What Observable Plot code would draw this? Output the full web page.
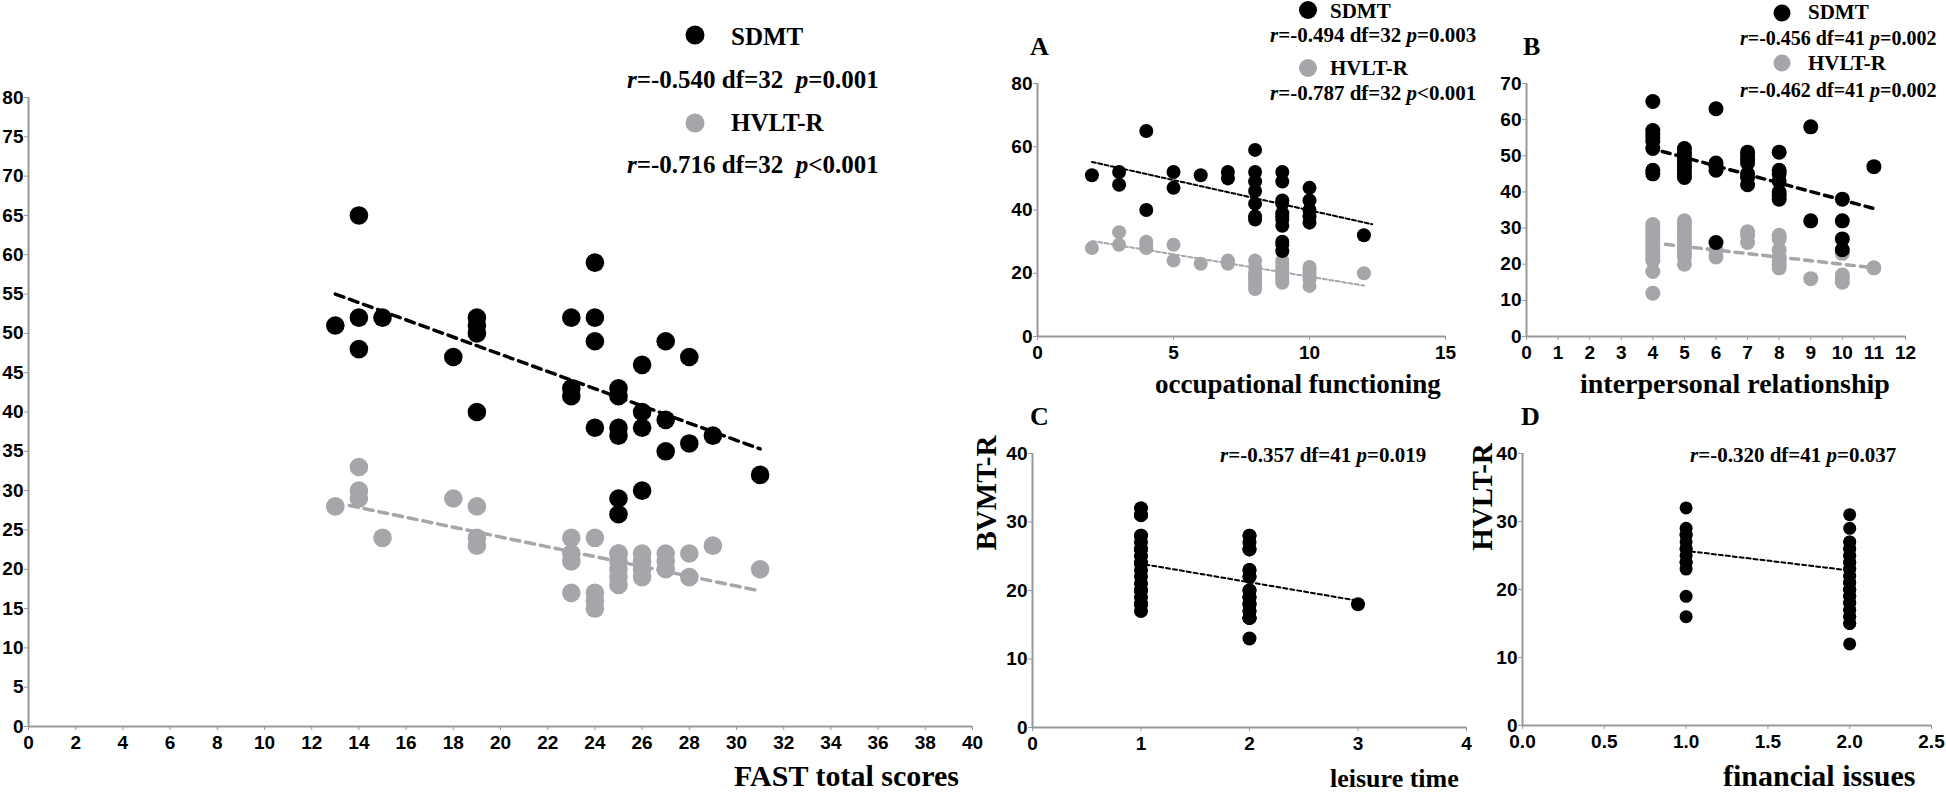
<!DOCTYPE html>
<html><head><meta charset="utf-8">
<script src="https://cdn.jsdelivr.net/npm/d3@7"></script>
<script src="https://cdn.jsdelivr.net/npm/@observablehq/plot@0.6"></script>
<style>
html,body{margin:0;padding:0;background:#fff;}
#root{position:relative;width:1946px;height:794px;overflow:hidden;background:#fff;}
#root svg{position:absolute;overflow:visible;}
#root svg g[aria-label="x-axis tick label"], #root svg g[aria-label="y-axis tick label"]{
  font-weight:bold !important; font-size:19px !important; font-family:'Liberation Sans', Arial, sans-serif !important;}
</style></head><body><div id="root"></div>
<script>
// ---------- DATA ----------
// Main panel: FAST total scores vs SDMT / HVLT-R  [x, y]
const fastSDMT = [[13,51],[14,65],[14,52],[14,48],[15,52],[18,47],[19,52],[19,51],[19,50],[19,40],[23,52],[23,43],[23,42],[24,59],[24,52],[24,49],[24,38],[25,43],[25,42],[25,38],[25,37],[25,29],[25,27],[26,46],[26,40],[26,38],[26,30],[27,49],[27,39],[27,35],[28,47],[28,36],[29,37],[31,32]];
const fastHVLT = [[13,28],[14,33],[14,30],[14,29],[15,24],[18,29],[19,28],[19,24],[19,23],[23,24],[23,22],[23,21],[23,17],[24,24],[24,17],[24,16],[24,15],[25,22],[25,22],[25,21],[25,20],[25,19],[25,18],[26,22],[26,21],[26,20],[26,19],[27,22],[27,21],[27,20],[28,22],[28,19],[29,23],[31,20]];
const fastSDMTFit = [[13,55.0],[31,35.3]];
const fastHVLTFit = [[13.6,28.1],[30.9,17.3]];
const fastTicksX = [0,2,4,6,8,10,12,14,16,18,20,22,24,26,28,30,32,34,36,38,40];
const fastTicksY = [0,5,10,15,20,25,30,35,40,45,50,55,60,65,70,75,80];

// Panel A: occupational functioning
const occSDMT = [[2,51],[3,52],[3,48],[4,65],[4,40],[5,52],[5,47],[6,51],[7,52],[7,50],[8,59],[8,52],[8,49],[8,46],[8,42],[8,38],[8,37],[9,52],[9,49],[9,43],[9,42],[9,39],[9,38],[9,37],[9,35],[9,30],[9,29],[9,27],[10,47],[10,43],[10,40],[10,38],[10,36],[12,32]];
const occHVLT = [[2,28],[3,33],[3,29],[4,30],[4,29],[4,28],[5,29],[5,24],[6,23],[7,24],[7,23],[8,24],[8,22],[8,20],[8,19],[8,18],[8,17],[8,16],[8,15],[9,24],[9,23],[9,22],[9,21],[9,20],[9,19],[9,18],[9,17],[10,22],[10,21],[10,20],[10,19],[10,18],[10,16],[12,20]];
const occSDMTFit = [[2,55.2],[12.3,35.5]];
const occHVLTFit = [[2,30.2],[12,16.1]];
const occTicksX = [0,5,10,15];
const occTicksY = [0,20,40,60,80];

// Panel B: interpersonal relationship
const interSDMT = [[4,65],[4,57],[4,56],[4,55],[4,54],[4,52],[4,46],[4,45],[5,52],[5,51],[5,50],[5,49],[5,48],[5,47],[5,46],[5,45],[5,44],[6,63],[6,48],[6,47],[6,46],[6,26],[7,51],[7,50],[7,49],[7,48],[7,45],[7,44],[7,42],[8,51],[8,46],[8,45],[8,43],[8,40],[8,39],[8,38],[9,58],[9,32],[10,38],[10,32],[10,27],[10,24],[11,47]];
const interHVLT = [[4,31],[4,30],[4,29],[4,28],[4,27],[4,26],[4,25],[4,24],[4,23],[4,22],[4,21],[4,18],[4,12],[5,32],[5,31],[5,30],[5,29],[5,28],[5,27],[5,26],[5,25],[5,24],[5,23],[5,22],[5,20],[6,24],[6,22],[7,29],[7,28],[7,26],[8,28],[8,27],[8,24],[8,22],[8,21],[8,20],[8,19],[9,16],[10,23],[10,17],[10,16],[10,15],[11,19]];
const interSDMTFit = [[4.3,51.2],[11.0,35.4]];
const interHVLTFit = [[4.4,25.5],[11.0,19.0]];
const interTicksX = [0,1,2,3,4,5,6,7,8,9,10,11,12];
const interTicksY = [0,10,20,30,40,50,60,70];

// Panel C: leisure time vs BVMT-R
const leisure1 = [32,31,31,28,28,27,26,26,25,24,24,23,22,21,20,20,19,18,18,17];
const leisure2 = [28,28,27,26,26,23,23,22,22,20,20,19,19,18,18,17,17,16,16,16,16,13];
const leisure3 = [18];
const leisureFit = [[1.04,23.8],[3.0,18.5]];
const leisureTicksX = [0,1,2,3,4];
const leisureTicksY = [0,10,20,30,40];

// Panel D: financial issues vs HVLT-R
const finance1 = [32,29,28,28,27,26,26,25,24,24,23,19,16];
const finance2 = [31,29,27,27,26,26,25,25,24,24,23,23,22,22,21,21,20,20,20,19,19,18,18,17,17,16,16,15,15,12];
const financeFit = [[1.03,25.6],[2.0,22.8]];
const financeTicksX = [0,0.5,1,1.5,2,2.5];
const financeTicksY = [0,10,20,30,40];

// ---------- STYLE ----------
const BLACK = "#000000", GRAY = "#a6a6aa", AXIS = "#999999";
const SANS = "'Liberation Sans', Arial, Helvetica, sans-serif";
const SERIF = "'Liberation Serif', 'Times New Roman', Times, serif";
const root = document.getElementById("root");

function panel(o) {
  const marks = [
    Plot.ruleY([o.yDomain[0]], {stroke: AXIS, strokeWidth: 2}),
    Plot.ruleX([o.xDomain[0]], {stroke: AXIS, strokeWidth: 2}),
    Plot.axisX({ticks: o.xTicks, tickFormat: o.xFormat || (d => String(d)), tickSize: 4, tickPadding: 5,
      stroke: AXIS, fill: BLACK, fontSize: 19, fontWeight: "bold", fontFamily: SANS}),
    Plot.axisY({ticks: o.yTicks, tickFormat: d => String(d), tickSize: 4, tickPadding: 1,
      stroke: AXIS, fill: BLACK, fontSize: 19, fontWeight: "bold", fontFamily: SANS})
  ];
  for (const s of o.series) {
    marks.push(Plot.dot(s.points, {x: d => d[0], y: d => d[1], r: s.r, fill: s.color, stroke: "none"}));
    marks.push(Plot.line(s.fit, {x: d => d[0], y: d => d[1], stroke: s.color, strokeWidth: s.lw, strokeDasharray: s.dash}));
  }
  const svg = Plot.plot({
    width: o.width, height: o.height,
    marginTop: o.m[0], marginRight: o.m[1], marginBottom: o.m[2], marginLeft: o.m[3],
    x: {domain: o.xDomain, label: null},
    y: {domain: o.yDomain, label: null},
    style: {background: "transparent", overflow: "visible", fontFamily: SANS, fontWeight: "bold", fontSize: "19px"},
    marks
  });
  svg.style.left = o.left + "px";
  svg.style.top = o.top + "px";
  root.appendChild(svg);
}

// Main panel
panel({left: 0, top: 0, width: 990, height: 794, m: [97, 18, 68, 28],
  xDomain: [0, 40], yDomain: [0, 80], xTicks: fastTicksX, yTicks: fastTicksY,
  series: [
    {points: fastHVLT, fit: fastHVLTFit, color: GRAY, r: 9.3, lw: 3.5, dash: "9,6"},
    {points: fastSDMT, fit: fastSDMTFit, color: BLACK, r: 9.3, lw: 3.5, dash: "9,6"}
  ]});

// Panel A
panel({left: 990, top: 0, width: 470, height: 400, m: [83, 15, 64, 47],
  xDomain: [0, 15], yDomain: [0, 80], xTicks: occTicksX, yTicks: occTicksY,
  series: [
    {points: occHVLT, fit: occHVLTFit, color: GRAY, r: 7, lw: 2, dash: "4,2.5"},
    {points: occSDMT, fit: occSDMTFit, color: BLACK, r: 7, lw: 2, dash: "4,2.5"}
  ]});

// Panel B
panel({left: 1460, top: 0, width: 486, height: 400, m: [83, 41, 64, 66],
  xDomain: [0, 12], yDomain: [0, 70], xTicks: interTicksX, yTicks: interTicksY,
  series: [
    {points: interHVLT, fit: interHVLTFit, color: GRAY, r: 7.5, lw: 3.5, dash: "8,6"},
    {points: interSDMT, fit: interSDMTFit, color: BLACK, r: 7.5, lw: 3.5, dash: "8,6"}
  ]});

// Panel C
const leisureData = [...leisure1.map(v => [1, v]), ...leisure2.map(v => [2, v]), ...leisure3.map(v => [3, v])];
panel({left: 990, top: 390, width: 480, height: 404, m: [63, 4, 67, 42],
  xDomain: [0, 4], yDomain: [0, 40], xTicks: leisureTicksX, yTicks: leisureTicksY,
  series: [{points: leisureData, fit: leisureFit, color: BLACK, r: 7, lw: 2, dash: "4,3"}]});

// Panel D
const financeData = [...finance1.map(v => [1, v]), ...finance2.map(v => [2, v])];
panel({left: 1460, top: 390, width: 486, height: 404, m: [63, 15, 69, 62],
  xDomain: [0, 2.5], yDomain: [0, 40], xTicks: financeTicksX, xFormat: d3.format(".1f"), yTicks: financeTicksY,
  series: [{points: financeData, fit: financeFit, color: BLACK, r: 6.5, lw: 2, dash: "4,3"}]});

// ---------- TEXT OVERLAY ----------
const ov = d3.create("svg").attr("width", 1946).attr("height", 794)
  .style("left", "0px").style("top", "0px").style("pointer-events", "none");
root.appendChild(ov.node());

function txt(x, y, parts, size, opts = {}) {
  const t = ov.append("text")
    .attr("transform", `translate(${x},${y}) rotate(${opts.rotate || 0})`)
    .attr("text-anchor", opts.anchor || "start")
    .attr("font-family", opts.family || SERIF)
    .attr("font-size", size)
    .attr("font-weight", "bold")
    .attr("fill", "#000")
    .style("white-space", "pre");
  for (const p of parts) {
    if (typeof p === "string") t.append("tspan").text(p);
    else t.append("tspan").attr("font-style", "italic").text(p.i);
  }
}
function dot(x, y, r, c) { ov.append("circle").attr("cx", x).attr("cy", y).attr("r", r).attr("fill", c); }

// main legend
dot(695, 35, 9.5, BLACK); txt(731, 45, ["SDMT"], 25);
txt(627, 88, [{i: "r"}, "=-0.540 df=32  ", {i: "p"}, "=0.001"], 25);
dot(695, 123, 9.5, GRAY); txt(731, 131, ["HVLT-R"], 25);
txt(627, 173, [{i: "r"}, "=-0.716 df=32  ", {i: "p"}, "<0.001"], 25);
txt(734, 786, ["FAST total scores"], 30);

// A
txt(1030, 55, ["A"], 26);
dot(1308, 10, 9, BLACK); txt(1330, 18, ["SDMT"], 21);
txt(1270, 42, [{i: "r"}, "=-0.494 df=32 ", {i: "p"}, "=0.003"], 21);
dot(1308, 68, 9, GRAY); txt(1330, 75, ["HVLT-R"], 21);
txt(1270, 100, [{i: "r"}, "=-0.787 df=32 ", {i: "p"}, "<0.001"], 21);
txt(1155, 393, ["occupational functioning"], 27);

// B
txt(1523, 55, ["B"], 26);
dot(1782, 13, 8.5, BLACK); txt(1808, 19, ["SDMT"], 21);
txt(1740, 45, [{i: "r"}, "=-0.456 df=41 ", {i: "p"}, "=0.002"], 20);
dot(1782, 63, 8.5, GRAY); txt(1808, 70, ["HVLT-R"], 21);
txt(1740, 97, [{i: "r"}, "=-0.462 df=41 ", {i: "p"}, "=0.002"], 20);
txt(1580, 393, ["interpersonal relationship"], 28);

// C
txt(1030, 425, ["C"], 26);
txt(996, 493, ["BVMT-R"], 29, {rotate: -90, anchor: "middle"});
txt(1220, 462, [{i: "r"}, "=-0.357 df=41 ", {i: "p"}, "=0.019"], 21);
txt(1330, 787, ["leisure time"], 26);

// D
txt(1521, 425, ["D"], 26);
txt(1492, 497, ["HVLT-R"], 29, {rotate: -90, anchor: "middle"});
txt(1690, 462, [{i: "r"}, "=-0.320 df=41 ", {i: "p"}, "=0.037"], 21);
txt(1723, 786, ["financial issues"], 30);
</script></body></html>
